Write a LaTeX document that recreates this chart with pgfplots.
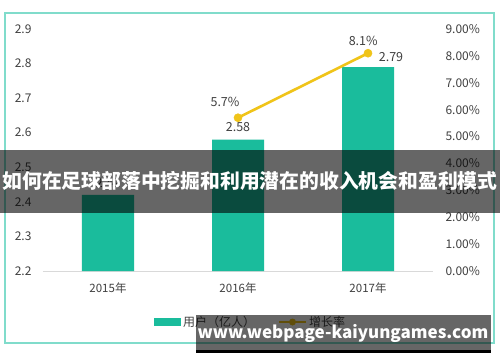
\documentclass[border=0pt]{standalone}
\usepackage{fontspec}
\setmainfont{Noto Sans CJK SC}
\usepackage{pgfplots}
\pgfplotsset{compat=1.18}
\definecolor{barc}{RGB}{26,188,156}
\definecolor{linec}{RGB}{240,196,25}
\definecolor{framec}{RGB}{128,220,203}
\definecolor{tickc}{RGB}{64,64,64}
\begin{document}
\begin{tikzpicture}[x=1pt,y=1pt]
\path[use as bounding box] (0,0) rectangle (500,362);
\fill[white] (0,0) rectangle (500,362);
\draw[framec, line width=1.5pt] (5,349) rectangle (494,19);
\begin{axis}[at={(43pt,91pt)}, anchor=south west, scale only axis,
  width=390pt, height=242pt,
  xmin=-0.5, xmax=2.5, ymin=2.2, ymax=2.9,
  axis x line*=bottom, axis y line*=left,
  y axis line style={draw=none},
  x axis line style={draw=black!15, line width=1pt},
  major tick length=0pt,
  xtick={0,1,2}, xticklabels={2015年,2016年,2017年},
  ytick={2.2,2.3,2.4,2.5,2.6,2.7,2.8,2.9},
  /pgf/number format/assume math mode=true,
  yticklabel style={/pgf/number format/fixed,/pgf/number format/fixed zerofill,/pgf/number format/precision=1, font=\fontsize{12}{14}\selectfont, text=tickc, xshift=-8pt},
  xticklabel style={font=\fontsize{11.5}{14}\selectfont, text=tickc, yshift=-8pt},
  clip=false]
\addplot[ybar, bar width=52pt, fill=barc, draw=none] coordinates {(0,2.42) (1,2.58) (2,2.79)};
\node[font=\fontsize{12.5}{14}\selectfont, text=tickc] at (axis cs:0,2.455) {2.42};
\node[font=\fontsize{12.5}{14}\selectfont, text=tickc] at (axis cs:1,2.615) {2.58};
\node[font=\fontsize{12.5}{14}\selectfont, text=tickc] at (axis cs:2.177,2.82) {2.79};
\end{axis}
\begin{axis}[at={(43pt,91pt)}, anchor=south west, scale only axis,
  width=390pt, height=242pt,
  xmin=-0.5, xmax=2.5, ymin=0, ymax=9,
  axis x line=none, axis y line*=right,
  y axis line style={draw=none},
  major tick length=0pt,
  ytick={0,1,2,3,4,5,6,7,8,9},
  /pgf/number format/assume math mode=true,
  yticklabel={\pgfmathprintnumber[fixed,fixed zerofill,precision=2]{\tick}\%},
  yticklabel style={font=\fontsize{12}{14}\selectfont, text=tickc, xshift=9pt},
  clip=false]
\addplot[linec, line width=2.6pt, mark=*, mark size=4pt, mark options={solid, fill=linec, draw=linec, line width=0.6pt}] coordinates {(1,5.7) (2,8.1)};
\node[font=\fontsize{12.5}{14}\selectfont, text=tickc] at (axis cs:0.9,6.27) {5.7\%};
\node[font=\fontsize{12.5}{14}\selectfont, text=tickc] at (axis cs:1.963,8.55) {8.1\%};
\end{axis}
% legend
\fill[barc] (154,36) rectangle (181,44);
\node[anchor=west, inner sep=0pt, font=\fontsize{12}{14}\selectfont, text=tickc] at (183,40) {用户（亿人）};
\draw[linec, line width=2.4pt] (279,40) -- (306,40);
\fill[linec] (292.5,40) circle (3.5pt);
\node[anchor=west, inner sep=0pt, font=\fontsize{12}{14}\selectfont, text=tickc] at (309,40) {增长率};
% banner
\fill[black, opacity=0.6] (0,149) rectangle (500,212);
\node[text=white, font=\fontsize{19.8}{24}\selectfont\bfseries, inner sep=0pt] at (250,181) {如何在足球部落中挖掘和利用潜在的收入机会和盈利模式};
% watermark
\fill[black, opacity=0.6] (196,12) rectangle (491,47);
\fill[black] (196,9) rectangle (491,12);
\node[text=white, font=\fontsize{17}{20}\selectfont\bfseries, inner sep=0pt] at (343,29) {www.webpage-kaiyungames.com};
\end{tikzpicture}
\end{document}
